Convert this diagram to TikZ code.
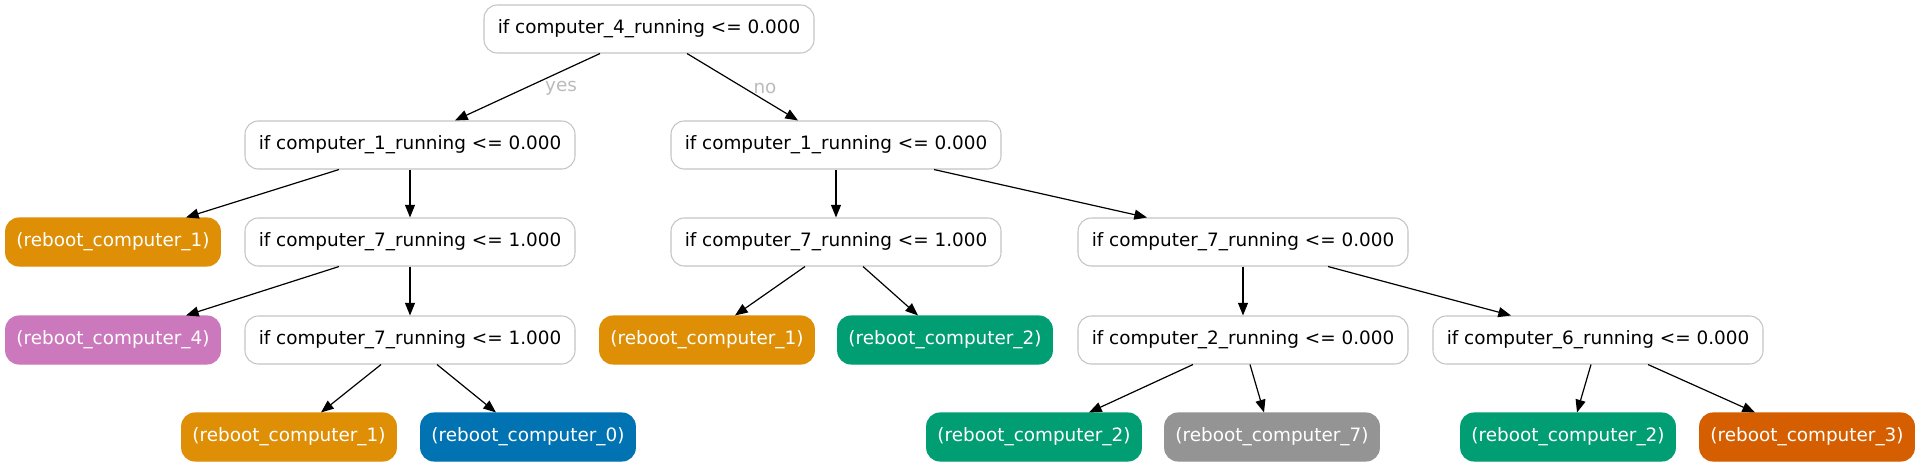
\documentclass[tikz,border=0pt]{standalone}
\usepackage{fontspec}
\setmainfont{DejaVu Sans}
\usetikzlibrary{arrows.meta}
\definecolor{cbOrange}{HTML}{DE8F05}
\definecolor{cbBlue}{HTML}{0173B2}
\definecolor{cbGreen}{HTML}{029E73}
\definecolor{cbDkOrange}{HTML}{D55E00}
\definecolor{cbPink}{HTML}{CC78BC}
\definecolor{cbGray}{HTML}{949494}
\definecolor{borderGray}{HTML}{C4C4C4}
\definecolor{labelGray}{HTML}{BBBBBB}
\tikzset{
  base/.style={rounded corners=10pt, minimum height=36pt, inner sep=0pt, font=\fontsize{13.8pt}{16pt}\selectfont},
  decision/.style={base, draw=borderGray, line width=0.8pt, fill=white, text=black, minimum width=247.5pt},
  leaf/.style={base, draw=#1, line width=0.8pt, fill=#1, text=white, minimum width=161pt},
  edge/.style={draw=black, line width=0.9pt, -{Triangle[length=9.5pt,width=7.5pt]}},
  elabel/.style={text=labelGray, font=\fontsize{13.8pt}{16pt}\selectfont}
}
\begin{document}
\begin{tikzpicture}[x=0.75pt, y=-0.75pt]
\useasboundingbox (0,0) rectangle (1920,467);
% rows: 29, 145, 242, 340, 437
\node[decision] (root) at (649,29) {if computer\_4\_running <= 0.000};
\node[decision] (aL) at (410,145) {if computer\_1\_running <= 0.000};
\node[decision] (aR) at (836,145) {if computer\_1\_running <= 0.000};
\node[leaf=cbOrange] (l1) at (113,242) {(reboot\_computer\_1)};
\node[decision] (bL) at (410,242) {if computer\_7\_running <= 1.000};
\node[decision] (bM) at (836,242) {if computer\_7\_running <= 1.000};
\node[decision] (bR) at (1243,242) {if computer\_7\_running <= 0.000};
\node[leaf=cbPink] (l4) at (113,340) {(reboot\_computer\_4)};
\node[decision] (cL) at (410,340) {if computer\_7\_running <= 1.000};
\node[leaf=cbOrange] (m1) at (707,340) {(reboot\_computer\_1)};
\node[leaf=cbGreen] (m2) at (945,340) {(reboot\_computer\_2)};
\node[decision] (c2) at (1243,340) {if computer\_2\_running <= 0.000};
\node[decision] (c6) at (1598,340) {if computer\_6\_running <= 0.000};
\node[leaf=cbOrange] (n1) at (289,437) {(reboot\_computer\_1)};
\node[leaf=cbBlue] (n0) at (528,437) {(reboot\_computer\_0)};
\node[leaf=cbGreen] (p2) at (1034,437) {(reboot\_computer\_2)};
\node[leaf=cbGray] (p7) at (1272,437) {(reboot\_computer\_7)};
\node[leaf=cbGreen] (q2) at (1568,437) {(reboot\_computer\_2)};
\node[leaf=cbDkOrange] (q3) at (1807,437) {(reboot\_computer\_3)};

\draw[edge] ([xshift=-49*0.75pt]root.south) -- ([xshift=45*0.75pt]aL.north);
\draw[edge] ([xshift=38*0.75pt]root.south) -- ([xshift=-38*0.75pt]aR.north);
\draw[edge] ([xshift=-71*0.75pt]aL.south) -- ([xshift=73*0.75pt]l1.north);
\draw[edge] (aL.south) -- (bL.north);
\draw[edge] (aR.south) -- (bM.north);
\draw[edge] ([xshift=98*0.75pt]aR.south) -- ([xshift=-96*0.75pt]bR.north);
\draw[edge] ([xshift=-71*0.75pt]bL.south) -- ([xshift=73*0.75pt]l4.north);
\draw[edge] (bL.south) -- (cL.north);
\draw[edge] ([xshift=-31*0.75pt]bM.south) -- ([xshift=28*0.75pt]m1.north);
\draw[edge] ([xshift=27*0.75pt]bM.south) -- ([xshift=-27*0.75pt]m2.north);
\draw[edge] (bR.south) -- (c2.north);
\draw[edge] ([xshift=85*0.75pt]bR.south) -- ([xshift=-87*0.75pt]c6.north);
\draw[edge] ([xshift=-29*0.75pt]cL.south) -- ([xshift=32*0.75pt]n1.north);
\draw[edge] ([xshift=27*0.75pt]cL.south) -- ([xshift=-32*0.75pt]n0.north);
\draw[edge] ([xshift=-50*0.75pt]c2.south) -- ([xshift=55*0.75pt]p2.north);
\draw[edge] ([xshift=7*0.75pt]c2.south) -- ([xshift=-8*0.75pt]p7.north);
\draw[edge] ([xshift=-7*0.75pt]c6.south) -- ([xshift=9*0.75pt]q2.north);
\draw[edge] ([xshift=50*0.75pt]c6.south) -- ([xshift=-52*0.75pt]q3.north);

\node[elabel] (yes) at (561,88) {yes};
\node[elabel] (no) at (765,88) {no};
\end{tikzpicture}
\end{document}
